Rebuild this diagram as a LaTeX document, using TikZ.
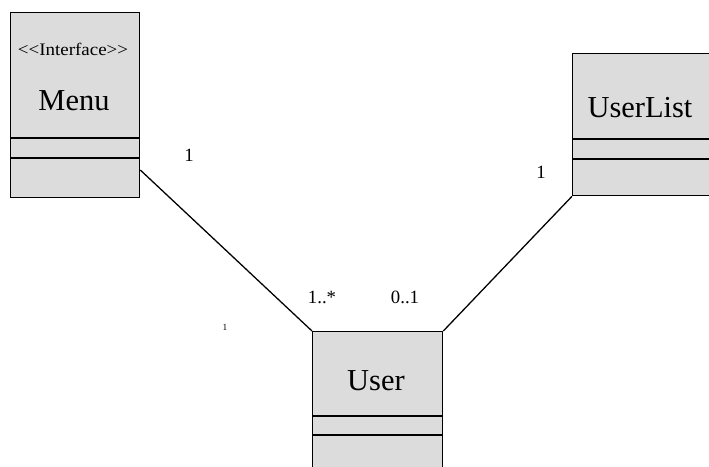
\documentclass[tikz,border=0pt]{standalone}
\usepackage{fontspec}
\setmainfont{Liberation Serif}
\usetikzlibrary{positioning}
\definecolor{boxfill}{HTML}{DCDCDC}

\begin{document}
\begin{tikzpicture}[
      x=0.03cm, y=-0.03cm,
      umlclass/.style={rectangle, draw=black, fill=boxfill, line width=1.1pt,
                       inner sep=0pt, anchor=north west},
      title/.style={font=\fontsize{26}{28}\selectfont},
      stereo/.style={font=\fontsize{15}{17}\selectfont},
      mult/.style={font=\fontsize{16}{18}\selectfont},
      assoc/.style={draw=black, line width=1.1pt},
    ]
    \useasboundingbox (0,0) rectangle (709,466);
    \clip (0,0) rectangle (709,466);

    % classes
    \node[umlclass, minimum width=3.87cm, minimum height=5.55cm] (menu) at (10,12) {};
    \node[umlclass, minimum width=4.35cm, minimum height=4.26cm] (userlist) at (572,53) {};
    \node[umlclass, minimum width=3.9cm, minimum height=5.2cm] (user) at (312,331) {};

    % compartments
    \draw[line width=1.1pt] (10,138) -- (139,138) (10,158) -- (139,158);
    \draw[line width=1.1pt] (572,139) -- (717,139) (572,159) -- (717,159);
    \draw[line width=1.1pt] (312,416) -- (442,416) (312,435) -- (442,435);

    % names
    \node[stereo, xscale=1.08] (menustereo) at (73,49) {<\kern0pt<Interface>\kern0pt>};
    \node[title] (menuname) at (74,101) {Menu};
    \node[title] (userlistname) at (640,108) {UserList};
    \node[title] (username) at (376,381) {User};

    % associations
    \draw[assoc] (menu.east |- 0,170) -- (user.north west);
    \draw[assoc] (userlist.south west) -- (user.north east);

    \node[mult] (m1) at (189,155) {1};
    \node[mult] (m2) at (541,172) {1};
    \node[mult] (m3) at (322,297) {1..*};
    \node[mult] (m4) at (405,297) {0..1};
    \node[font=\fontsize{8}{9}\selectfont] (m5) at (225,327) {1};
  \end{tikzpicture}
\end{document}
